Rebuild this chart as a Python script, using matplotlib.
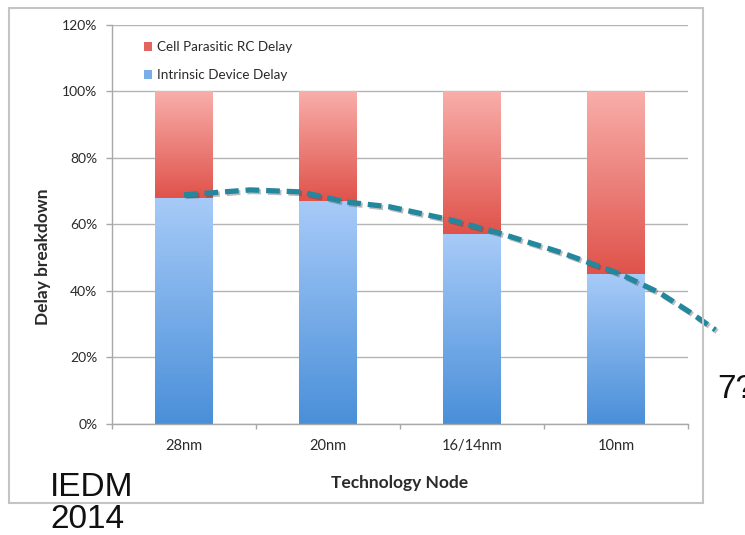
import numpy as np
import matplotlib
matplotlib.use("Agg")
import matplotlib.pyplot as plt
from matplotlib.colors import LinearSegmentedColormap
from matplotlib.patches import Patch, Rectangle
import matplotlib.patheffects as pe

# ---- data -------------------------------------------------------------
nodes = ["28nm", "20nm", "16/14nm", "10nm"]
intrinsic_delay = [68, 67, 57, 45]                      # % of total delay
parasitic_delay = [100 - v for v in intrinsic_delay]    # remainder, stacked on top
yticks = [0, 20, 40, 60, 80, 100, 120]

# hand-drawn trend of intrinsic share (node position, %)
trend_x = [0.0, 0.46, 0.81, 1.12, 1.43, 1.85, 2.19, 2.61, 3.03, 3.30, 3.50, 3.69]
trend_y = [68.9, 70.4, 69.8, 66.8, 65.3, 61.4, 57.4, 51.7, 45.1, 39.5, 34.0, 28.3]

# ---- styling ----------------------------------------------------------
plt.rcParams["font.family"] = ["Lato", "DejaVu Sans"]
grid_c = "#b4b4b4"
text_c = "#2a2a2a"

fig = plt.figure(figsize=(7.45, 5.35), dpi=100)
ax = fig.add_axes([0.1503, 0.2075, 0.7732, 0.7458])

x = np.arange(len(nodes))
bw = 0.4
blue_cmap = LinearSegmentedColormap.from_list("blue", ["#4a8fd9", "#a7cbf8"])
red_cmap = LinearSegmentedColormap.from_list("red", ["#df534b", "#f9aeaa"])

bars_b = ax.bar(x, intrinsic_delay, width=bw, color="none", zorder=2)
bars_r = ax.bar(x, parasitic_delay, width=bw, bottom=intrinsic_delay,
                color="none", zorder=2)

grad = np.linspace(0, 1, 256).reshape(-1, 1)
for bars, cmap in ((bars_b, blue_cmap), (bars_r, red_cmap)):
    for p in bars:
        x0, y0 = p.get_x(), p.get_y()
        x1, y1 = x0 + p.get_width(), y0 + p.get_height()
        im = ax.imshow(grad, cmap=cmap, origin="lower", aspect="auto",
                       extent=(x0, x1, y0, y1), zorder=2, interpolation="bicubic")
        im.set_clip_path(p)

# dashed trend line with a soft shadow
ax.plot(trend_x, trend_y, color="#23879d", lw=3.8, dashes=(2.6, 1.3),
        solid_capstyle="butt", clip_on=False, zorder=4,
        path_effects=[pe.SimpleLineShadow(offset=(1.2, -1.2), shadow_color="#444444",
                                          alpha=0.35),
                      pe.Normal()])

# ---- axes -------------------------------------------------------------
ax.set_xlim(-0.5, len(nodes) - 0.5)
ax.set_ylim(0, 120)
ax.set_yticks(yticks)
ax.set_yticklabels([f"{v}%" for v in yticks])
ax.set_xticks(x)
ax.set_xticklabels(nodes)
ax.set_xticks(np.arange(-0.5, len(nodes)), minor=True)

ax.yaxis.grid(True, color=grid_c, lw=1.0, zorder=0)
ax.set_axisbelow(True)
for side in ("top", "right"):
    ax.spines[side].set_visible(False)
for side in ("left", "bottom"):
    ax.spines[side].set_color("#a8a8a8")
    ax.spines[side].set_linewidth(1.0)

ax.tick_params(axis="y", length=4.5, width=1, color="#a8a8a8", pad=6,
               labelsize=10, labelcolor=text_c)
ax.tick_params(axis="x", which="major", length=0, pad=11,
               labelsize=10.5, labelcolor=text_c)
ax.tick_params(axis="x", which="minor", length=3.5, width=1, color="#a8a8a8")

ax.set_ylabel("Delay breakdown", fontsize=12.5, fontweight="bold", color=text_c)
ax.yaxis.set_label_coords(-0.105, 0.42)
ax.set_xlabel("Technology Node", fontsize=12.5, fontweight="bold", color=text_c)
ax.xaxis.set_label_coords(0.5, -0.128)

legend_handles = [Patch(facecolor="#e36560", edgecolor="none", label="Cell Parasitic RC Delay"),
                  Patch(facecolor="#7aaee8", edgecolor="none", label="Intrinsic Device Delay")]
ax.legend(handles=legend_handles, loc="upper left", bbox_to_anchor=(0.035, 0.99),
          frameon=False, fontsize=9.7, handlelength=0.6, handleheight=0.6,
          handletextpad=0.35, labelspacing=1.2, labelcolor=text_c)

# ---- frame and side notes --------------------------------------------
fig.patches.append(Rectangle((9 / 745, 1 - 503 / 535), (703 - 9) / 745, (503 - 8) / 535,
                             transform=fig.transFigure, fill=False,
                             edgecolor="#c4c4c4", lw=1.5, zorder=0))

note_font = ["Liberation Sans", "DejaVu Sans"]
fig.text(717 / 745, 1 - 398 / 535, "7?", fontsize=24, family=note_font,
         color="#111111", va="baseline", ha="left")
fig.text(50 / 745, 1 - 496 / 535, "IEDM", fontsize=24, family=note_font,
         color="#111111", va="baseline", ha="left")
fig.text(50 / 745, 0.0, "2014", fontsize=24, family=note_font,
         color="#111111", va="bottom", ha="left")

fig.savefig("out.png", dpi=100)
